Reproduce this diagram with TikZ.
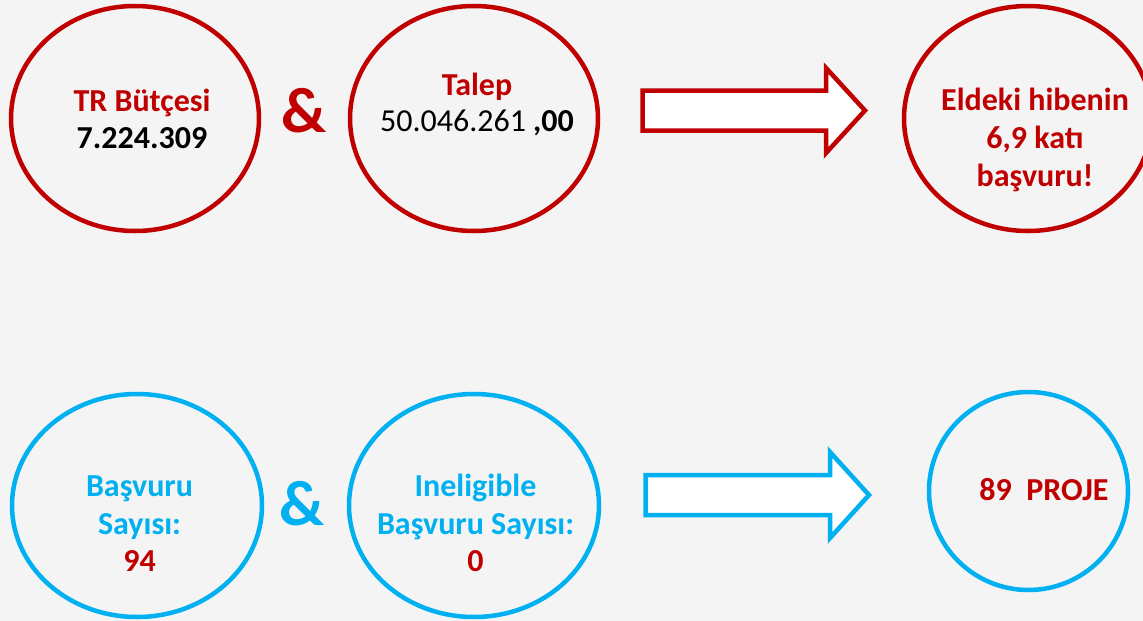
\documentclass[tikz,border=0pt]{standalone}
\usepackage{fontspec}
\setmainfont{Carlito}
\usetikzlibrary{shapes.geometric}
\definecolor{budgetred}{HTML}{C00000}
\definecolor{countblue}{HTML}{00B0F0}
\definecolor{slidegray}{HTML}{F4F4F4}
\tikzset{
    redring/.style={ellipse, draw=budgetred, line width=4.5pt, inner sep=0pt},
    bluering/.style={ellipse, draw=countblue, line width=4.5pt, inner sep=0pt},
    slidetext/.style={anchor=base, inner sep=0pt, font=\fontsize{32}{37}\selectfont\bfseries},
    ampersand/.style={anchor=base, inner sep=0pt, font=\fontsize{64}{70}\selectfont\bfseries},
    blockarrow/.style={line width=4.5pt, fill=white, line join=miter}
}
\begin{document}
\begin{tikzpicture}[x=1pt, y=-1pt]
        \useasboundingbox (0, 0) rectangle (1143, 621);
        \fill[slidegray] (0, 0) rectangle (1143, 621);

        %%draw the rings of the first row
        \node[redring, minimum width=248pt, minimum height=225pt] (budget) at(135, 118.5){};
        \node[redring, minimum width=248pt, minimum height=225pt] (demand) at(474, 118.5){};
        \node[redring, minimum width=248pt, minimum height=225pt] (ratio) at(1028, 118.5){};

        %%texts of the first row
        \node[slidetext, budgetred] (budgethead) at(142, 111.7){TR Bütçesi};
        \node[slidetext, black] (budgetval) at(142, 148.3){7.224.309};
        \node[ampersand, budgetred] (ampred) at(304, 132){\&};
        \node[slidetext, budgetred] (demandhead) at(477, 95){Talep};
        \node[slidetext, black] (demandval) at(477, 131.7){{\mdseries 50.046.261 },00};
        \node[slidetext, budgetred] (ratioa) at(1035, 110){Eldeki hibenin};
        \node[slidetext, budgetred] (ratiob) at(1035, 148){6,9 katı};
        \node[slidetext, budgetred] (ratioc) at(1035, 186){başvuru!};

        %%the red arrow
        \draw[blockarrow, draw=budgetred] (642.5, 90.5) -- (826, 90.5) -- (826, 68) -- (865, 110.5)
            -- (826, 153) -- (826, 130.5) -- (642.5, 130.5) -- cycle;

        %%draw the rings of the second row
        \node[bluering, minimum width=250pt, minimum height=223pt] (applied) at(137, 505.5){};
        \node[bluering, minimum width=250pt, minimum height=223pt] (inelig) at(474, 505.5){};
        \node[bluering, minimum width=199pt, minimum height=198pt] (result) at(1028.5, 491){};

        %%texts of the second row
        \node[slidetext, countblue] (applieda) at(139.5, 496){Başvuru};
        \node[slidetext, countblue] (appliedb) at(139.5, 534){Sayısı:};
        \node[slidetext, budgetred] (appliedval) at(139.5, 571){94};
        \node[ampersand, countblue] (ampblue) at(302.5, 525){\&};
        \node[slidetext, countblue] (ineliga) at(475.5, 496){Ineligible};
        \node[slidetext, countblue] (ineligb) at(475.5, 534){Başvuru Sayısı:};
        \node[slidetext, budgetred] (ineligval) at(475.5, 571){0};
        \node[slidetext, budgetred] (projects) at(1044, 500){89\ \ PROJE};

        %%the blue arrow
        \draw[blockarrow, draw=countblue] (645.5, 475) -- (830, 475) -- (830, 452) -- (869, 495)
            -- (830, 538) -- (830, 515) -- (645.5, 515) -- cycle;

    \end{tikzpicture}
\end{document}
